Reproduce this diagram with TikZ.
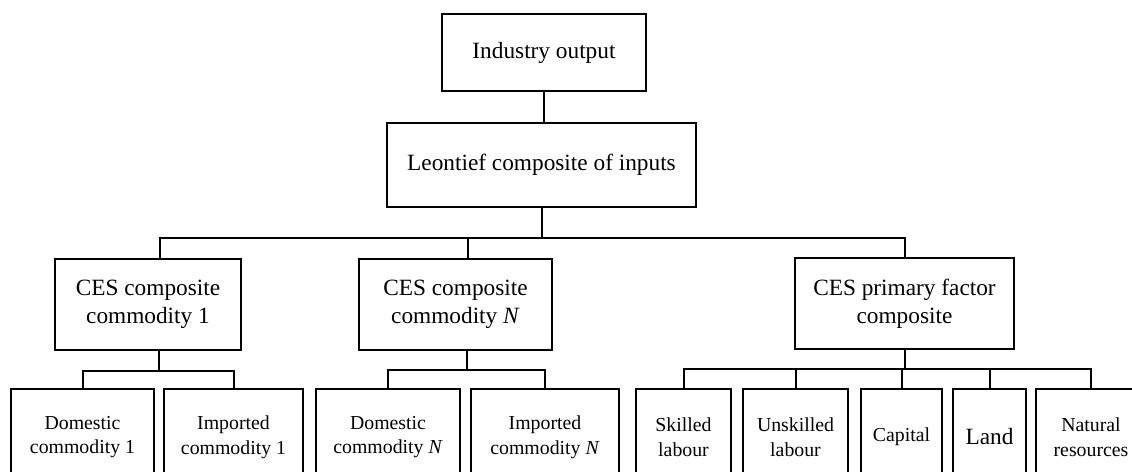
\documentclass[tikz,border=0pt]{standalone}
\usepackage{fontspec}
\setmainfont{Liberation Serif}
\usepackage{tikz}
\usetikzlibrary{positioning, calc}
\newcommand{\mainsz}{\fontsize{11.65pt}{14pt}\selectfont}
\newcommand{\leafsz}{\fontsize{9.9pt}{12.4pt}\selectfont}

\begin{document}
\begin{tikzpicture}[
      x=0.5pt, y=-0.5pt,
      box/.style={draw, line width=1pt, inner sep=0pt, align=center, font=\mainsz},
      leaf/.style={box, minimum height=48pt, font=\leafsz},
      link/.style={line width=1pt}
  ]
  \useasboundingbox (0,0) rectangle (1132,472);

  \node[box, minimum width=102pt, minimum height=38.5pt] (out) at (544,52.5) {Industry output};
  \node[box, minimum width=154.5pt, minimum height=42pt] (leon) at (541.5,165) {Leontief composite of inputs};

  \node[box, minimum width=93pt, minimum height=45.5pt] (ces1) at (148,304.5) {CES composite\\ commodity 1};
  \node[box, minimum width=96.5pt, minimum height=45.5pt] (cesN) at (455.5,304.5) {CES composite\\commodity \textit{N}};
  \node[box, minimum width=109.5pt, minimum height=45.5pt] (cesF) at (904.5,303.5) {CES primary factor\\composite};

  \node[leaf, minimum width=71.5pt] (dom1) at (82.5,437) {Domestic\\commodity 1};
  \node[leaf, minimum width=69.5pt] (imp1) at (233.5,437) {Imported\\commodity 1};
  \node[leaf, minimum width=72pt] (domN) at (388,437) {Domestic\\commodity \textit{N}};
  \node[leaf, minimum width=74pt] (impN) at (545,437) {Imported\\commodity \textit{N}};
  \node[leaf, minimum width=47.5pt] (skl) at (683.5,437) {Skilled\\labour};
  \node[leaf, minimum width=52.5pt] (unsk) at (795.5,437) {Unskilled\\labour};
  \node[leaf, minimum width=40.5pt] (cap) at (901.5,437) {Capital};
  \node[leaf, minimum width=36.5pt, font=\mainsz] (land) at (989.5,437) {Land};
  \node[leaf, minimum width=55pt] (nat) at (1091,437) {Natural\\resources};

  \draw[link] (out.south) -- (out.south |- leon.north);
  \draw[link] (leon.south) -- ++(0,30) coordinate (bus);
  \draw[link] ([xshift=6pt]ces1.north) |- (bus) -| (cesF.north);
  \draw[link] ([xshift=6pt]cesN.north) -- ([xshift=6pt]cesN.north |- bus);

  \draw[link] ([xshift=5.5pt]ces1.south) -- ++(0,20) coordinate (sub1);
  \draw[link] (dom1.north) |- (sub1) -| (imp1.north);
  \draw[link] ([xshift=5.5pt]cesN.south) -- ++(0,19) coordinate (subN);
  \draw[link] (domN.north) |- (subN) -| (impN.north);
  \draw[link] (cesF.south) -- ++(0,19) coordinate (subF);
  \draw[link] (skl.north) |- (subF) -| (nat.north);
  \draw[link] (unsk.north) -- (unsk.north |- subF);
  \draw[link] (cap.north) -- (cap.north |- subF);
  \draw[link] (land.north) -- (land.north |- subF);
\end{tikzpicture}
\end{document}
